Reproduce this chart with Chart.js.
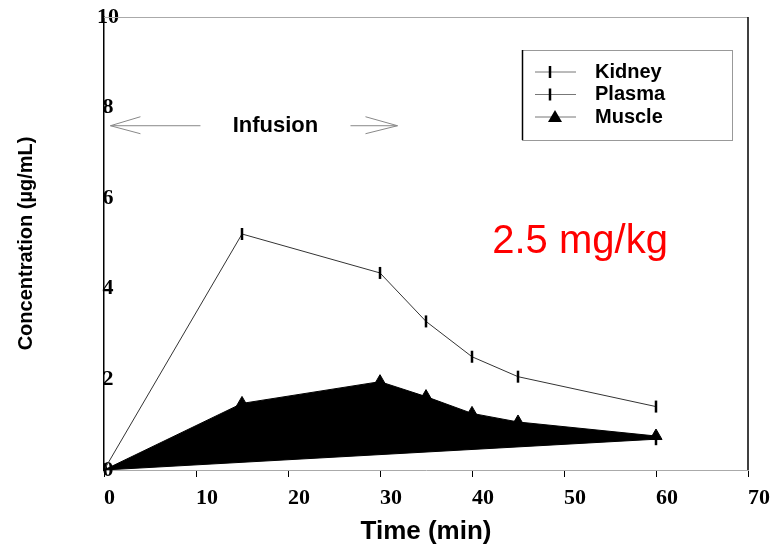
<!DOCTYPE html>
<html>
<head>
<meta charset="utf-8">
<script src="https://cdn.jsdelivr.net/npm/chart.js@4/dist/chart.umd.min.js"></script>
<style>
  html, body { margin: 0; padding: 0; background: #fff; }
  #wrap { width: 778px; height: 551px; }
</style>
</head>
<body>
<div id="wrap"><canvas id="chart"></canvas></div>
<script>
// valores
const tiempos = [0, 15, 30, 35, 40, 45, 60];
const serieA = [0, 5.21, 4.35, 3.28, 2.5, 2.06, 1.4];
const tiemposB = [0, 60];
const serieB = [0, 0.68];
const serieC = [0, 1.47, 1.95, 1.62, 1.25, 1.06, 0.75];
const etiquetas = ["Kidney", "Plasma", "Muscle"];
const ticksX = [0, 10, 20, 30, 40, 50, 60, 70];
const ticksY = [0, 2, 4, 6, 8, 10];
const infusion = [0.7, 31.9];   // flecha de infusion (min)
const nivelInfusion = 7.6;

const puntos = (xs, ys) => xs.map((x, i) => ({ x: x, y: ys[i] }));

/* leyenda con recuadro y anotaciones */
const extras = {
    id: 'extras',
    afterDraw(chart) {
        const ctx = chart.ctx;
        const a = chart.chartArea;
        const sx = chart.scales.x, sy = chart.scales.y;
        ctx.save();
        // marco superior y derecho
        ctx.strokeStyle = '#aaa';
        ctx.lineWidth = 1;
        ctx.beginPath();
        ctx.moveTo(a.left, a.top + 0.5);
        ctx.lineTo(a.right, a.top + 0.5);
        ctx.stroke();
        ctx.strokeStyle = '#000';
        ctx.lineWidth = 1.5;
        ctx.beginPath();
        ctx.moveTo(a.right, a.top);
        ctx.lineTo(a.right, a.bottom);
        ctx.stroke();

        // flecha de infusion
        const yF = sy.getPixelForValue(nivelInfusion);
        const x1 = sx.getPixelForValue(infusion[0]);
        const x2 = sx.getPixelForValue(infusion[1]);
        ctx.strokeStyle = '#888';
        ctx.lineWidth = 1;
        ctx.beginPath();
        ctx.moveTo(x1, yF); ctx.lineTo(x1 + 90, yF);
        ctx.moveTo(x1 + 30, yF - 9); ctx.lineTo(x1, yF); ctx.lineTo(x1 + 30, yF + 8);
        ctx.moveTo(x2 - 47, yF); ctx.lineTo(x2, yF);
        ctx.moveTo(x2 - 32, yF - 9); ctx.lineTo(x2, yF); ctx.lineTo(x2 - 32, yF + 8);
        ctx.stroke();
        ctx.fillStyle = '#000';
        ctx.font = 'bold 22px "Liberation Sans"';
        ctx.textAlign = 'center';
        ctx.textBaseline = 'middle';
        ctx.fillText('Infusion', (x1 + 90 + x2 - 47) / 2, yF);

        // dosis
        ctx.fillStyle = '#ff0000';
        ctx.font = '40px "Liberation Sans"';
        ctx.textAlign = 'left';
        ctx.textBaseline = 'alphabetic';
        ctx.fillText('2.5 mg/kg', sx.getPixelForValue(42.2), sy.getPixelForValue(4.8));

        // leyenda
        const lx = 522, ly = 50, lw = 210, lh = 90;
        ctx.strokeStyle = '#999';
        ctx.lineWidth = 1;
        ctx.strokeRect(lx + 0.5, ly + 0.5, lw, lh);
        ctx.strokeStyle = '#000';
        ctx.lineWidth = 1.5;
        ctx.beginPath();
        ctx.moveTo(lx + 0.5, ly); ctx.lineTo(lx + 0.5, ly + lh);
        ctx.stroke();
        chart.data.datasets.forEach((ds, i) => {
            const y = ly + 22 + i * 22.5;
            ctx.strokeStyle = '#777';
            ctx.lineWidth = 1;
            ctx.beginPath();
            ctx.moveTo(lx + 13, y); ctx.lineTo(lx + 54, y);
            ctx.stroke();
            ctx.fillStyle = '#000';
            ctx.strokeStyle = '#000';
            if (ds.pointStyle === 'triangle') {
                ctx.beginPath();
                ctx.moveTo(lx + 33, y - 7);
                ctx.lineTo(lx + 40, y + 5);
                ctx.lineTo(lx + 26, y + 5);
                ctx.closePath();
                ctx.fill();
            } else {
                ctx.lineWidth = 2.5;
                ctx.beginPath();
                ctx.moveTo(lx + 28, y - 6); ctx.lineTo(lx + 28, y + 6);
                ctx.stroke();
            }
            ctx.font = 'bold 20px "Liberation Sans"';
            ctx.textAlign = 'left';
            ctx.textBaseline = 'middle';
            ctx.fillText(ds.label, lx + 73, y);
        });
        ctx.restore();
    }
};

const data = {
    datasets: [{
        label: etiquetas[0],
        data: puntos(tiempos, serieA),
        borderColor: '#333',
        borderWidth: 1,
        pointStyle: 'line',
        rotation: 90,
        pointRadius: 6,
        pointBorderWidth: 2.5,
        pointBorderColor: '#000',
        fill: false
    }, {
        label: etiquetas[1],
        data: puntos(tiemposB, serieB),
        borderColor: '#000',
        borderWidth: 1,
        pointStyle: 'line',
        rotation: 90,
        pointRadius: 6,
        pointBorderWidth: 2.5,
        pointBorderColor: '#000',
        fill: false
    }, {
        label: etiquetas[2],
        data: puntos(tiempos, serieC),
        borderColor: '#000',
        backgroundColor: '#000',
        borderWidth: 1,
        pointStyle: 'triangle',
        pointRadius: 7,
        pointBackgroundColor: '#000',
        pointBorderColor: '#000',
        fill: '-1'
    }]
};

const config = {
    type: 'line',
    data: data,
    plugins: [extras],
    options: {
        responsive: true,
        maintainAspectRatio: false,
        animation: false,
        layout: { padding: { top: 17, right: 30, left: 0, bottom: 0 } },
        plugins: {
            legend: { display: false },
            tooltip: { enabled: false },
            filler: { propagate: false }
        },
        scales: {
            x: {
                type: 'linear',
                min: 0,
                max: 70,
                afterBuildTicks: s => { s.ticks = ticksX.map(v => ({ value: v })); },
                afterFit: s => { s.height = 81; },
                grid: { display: true, drawOnChartArea: false, drawTicks: true, tickLength: 7, color: '#000' },
                border: { color: '#aaa', width: 1 },
                ticks: {
                    align: 'start',
                    padding: 8,
                    color: '#000',
                    font: { family: 'Liberation Serif', size: 22, weight: 'bold' }
                },
                title: {
                    display: true,
                    text: 'Time (min)',
                    color: '#000',
                    font: { family: 'Liberation Sans', size: 26, weight: 'bold' },
                    padding: { top: 12 }
                }
            },
            y: {
                min: 0,
                max: 10,
                afterBuildTicks: s => { s.ticks = ticksY.map(v => ({ value: v })); },
                afterFit: s => { s.width = 104; },
                grid: { display: false, drawTicks: false },
                border: { color: '#000', width: 1.5 },
                ticks: {
                    mirror: true,
                    crossAlign: 'center',
                    padding: -7,
                    color: '#000',
                    font: { family: 'Liberation Serif', size: 22, weight: 'bold' }
                },
                title: {
                    display: true,
                    text: 'Concentration (µg/mL)',
                    color: '#000',
                    font: { family: 'Liberation Sans', size: 20, weight: 'bold' },
                    padding: { top: 14 }
                }
            }
        }
    }
};

const canvas = document.getElementById("chart").getContext("2d");
let chart = new Chart(canvas, config);
</script>
</body>
</html>
